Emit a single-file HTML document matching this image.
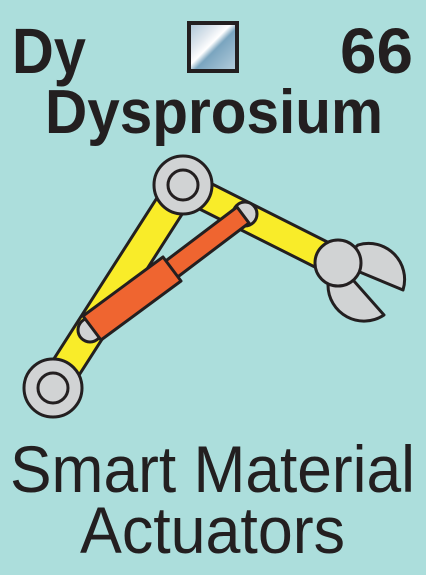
<!DOCTYPE html>
<html><head><meta charset="utf-8"><style>
html,body{margin:0;padding:0;background:#acdedc;}
svg{display:block;}
text{font-family:"Liberation Sans",sans-serif;fill:#231f20;}
</style></head><body>
<svg width="426" height="575" viewBox="0 0 426 575">
<defs>
<linearGradient id="g" x1="0" y1="0" x2="1" y2="1">
<stop offset="0" stop-color="#a9c4d6"/><stop offset="0.3" stop-color="#dfe7ee"/>
<stop offset="0.45" stop-color="#ffffff"/><stop offset="0.55" stop-color="#7aa5bf"/>
<stop offset="1" stop-color="#b8d0de"/></linearGradient>
</defs>
<rect width="426" height="575" fill="#acdedc"/>
<text x="12" y="73" font-size="64" font-weight="bold" textLength="74" lengthAdjust="spacingAndGlyphs">Dy</text>
<rect x="189" y="23" width="48" height="48" fill="url(#g)" stroke="#231f20" stroke-width="4"/>
<text x="340" y="73" font-size="64" font-weight="bold" textLength="73" lengthAdjust="spacingAndGlyphs">66</text>
<text x="45" y="133" font-size="62" font-weight="bold" textLength="338" lengthAdjust="spacingAndGlyphs">Dysprosium</text>

<g stroke="#231f20" stroke-width="3" stroke-linejoin="round">
<path d="M338 263 L358 245 A36 36 0 0 1 403 290 Z" fill="#d1d3d4"/>
<path d="M338 263 L384 315 A36 36 0 0 1 328 285 Z" fill="#d1d3d4"/>
<polygon points="40.4,379.9 170.4,176.9 195.6,193.1 65.6,396.1" fill="#f9ec29"/>
<polygon points="189.3,172.5 344.3,250.5 331.7,275.5 176.7,197.5" fill="#f9ec29"/>
<circle cx="245" cy="214" r="12" fill="#d1d3d4"/>
<circle cx="90" cy="330" r="12" fill="#d1d3d4"/>
<polygon points="237,207 249,223 171,282 159,266" fill="#ef6530"/>
<polygon points="163,257 181,281 101,340 83,316" fill="#ef6530"/>
<circle cx="183" cy="185" r="29" fill="#d1d3d4"/>
<circle cx="183" cy="185" r="15" fill="#d1d3d4"/>
<circle cx="53" cy="388" r="29" fill="#d1d3d4"/>
<circle cx="53" cy="388" r="15" fill="#d1d3d4"/>
<circle cx="338" cy="263" r="23" fill="#d1d3d4"/>
</g>

<text x="10" y="492" font-size="66" textLength="405" lengthAdjust="spacingAndGlyphs">Smart Material</text>
<text x="80" y="553" font-size="66" textLength="265" lengthAdjust="spacingAndGlyphs">Actuators</text>
</svg>
</body></html>
